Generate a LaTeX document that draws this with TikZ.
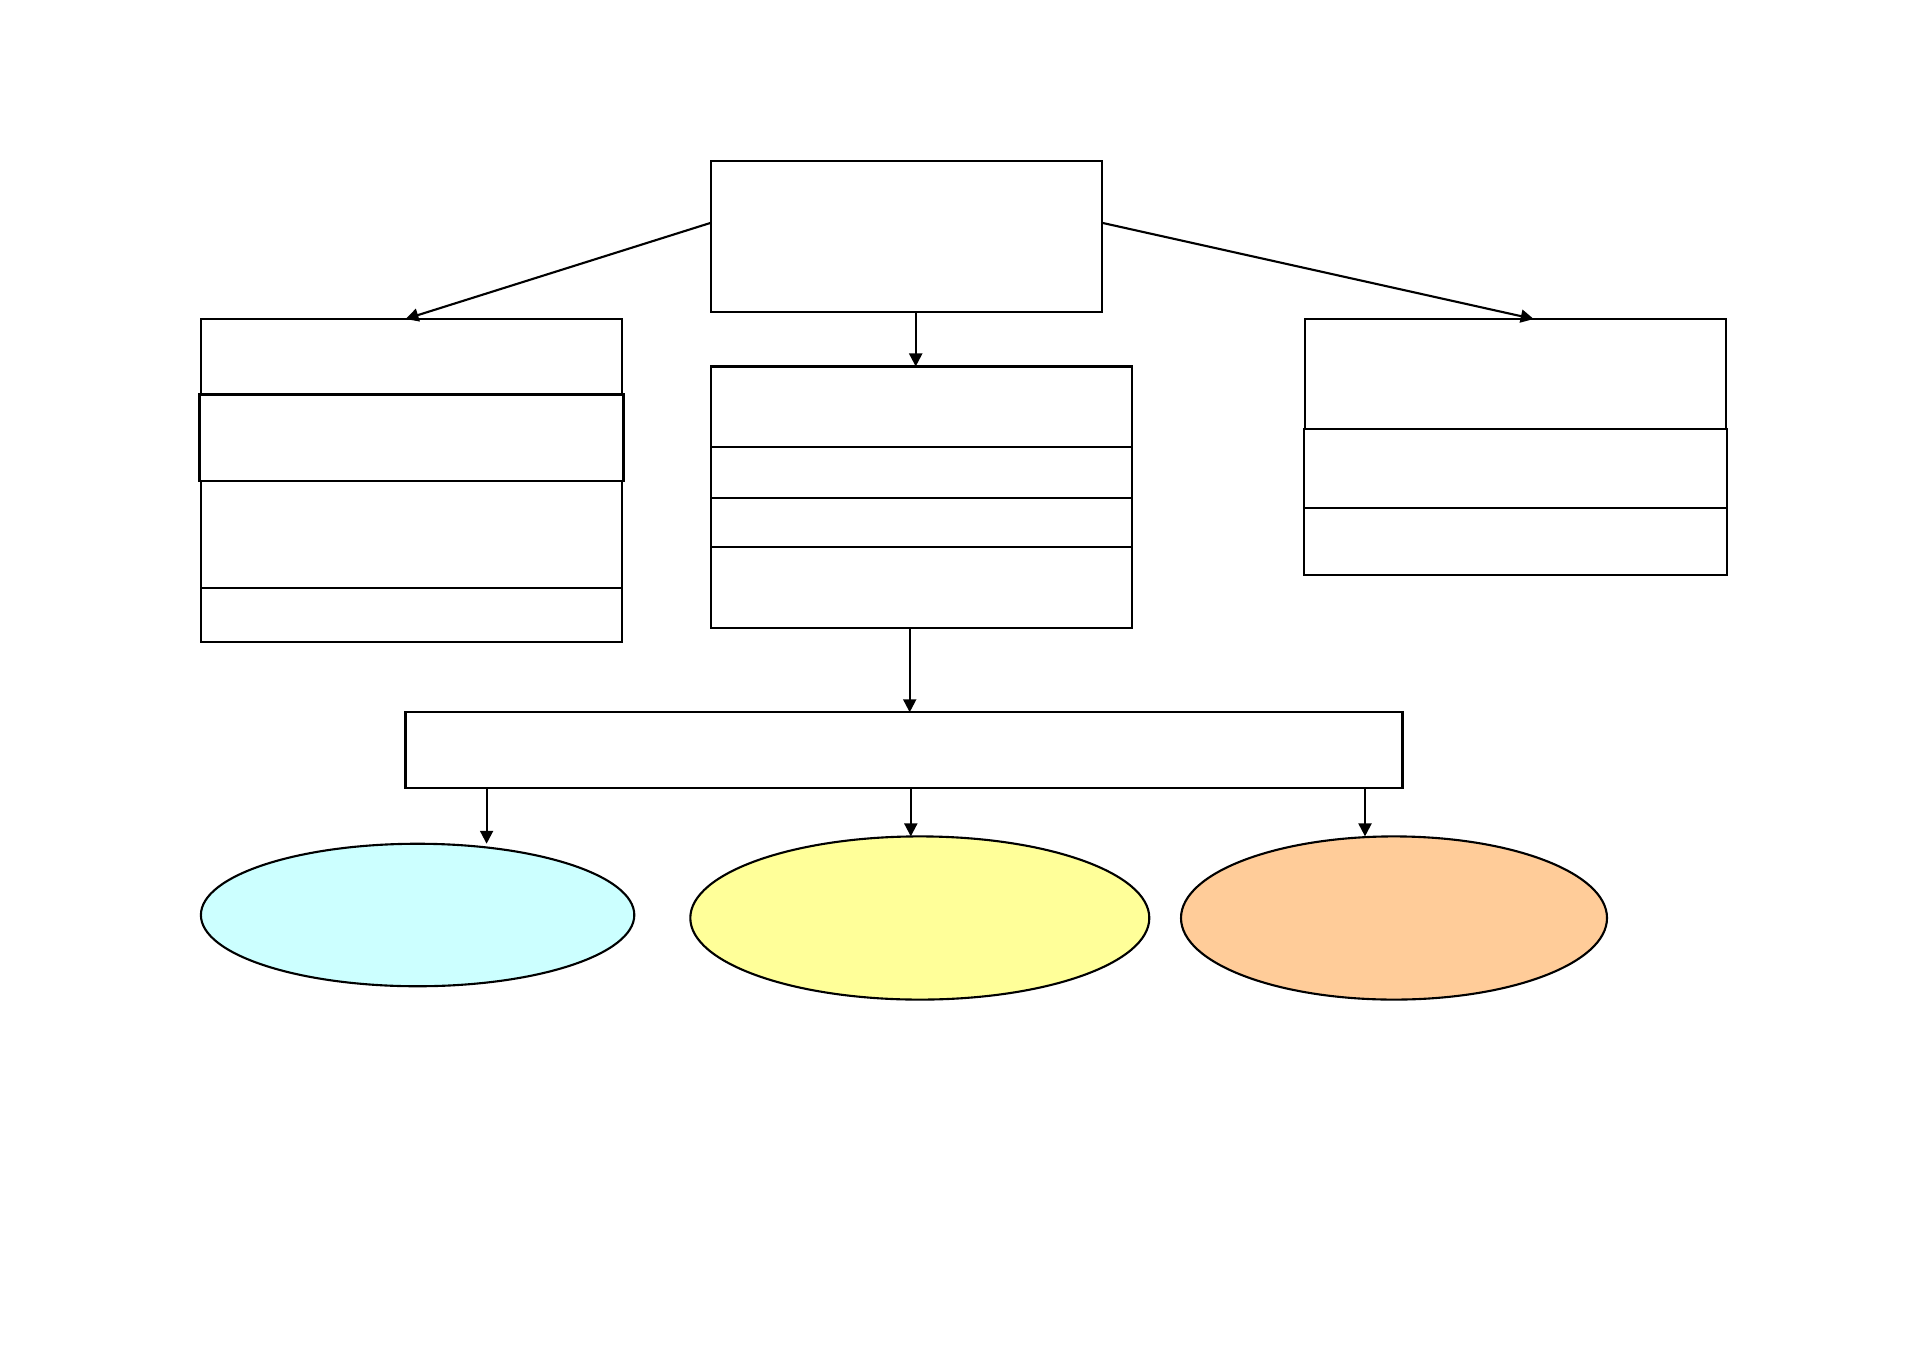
\documentclass[tikz,border=0pt]{standalone}
\usepackage{tikz}
\usetikzlibrary{arrows.meta,shapes.geometric,positioning}

\definecolor{PaleCyan}{HTML}{CCFFFF}
\definecolor{PaleYellow}{HTML}{FFFF99}
\definecolor{PaleOrange}{HTML}{FFCC99}

\begin{document}
\begin{tikzpicture}[line width=0.6pt,>={Triangle[length=1.3mm,width=1.3mm]},
	Edge/.style={->,black},
	Cell/.style={rectangle,draw=black,fill=white,inner sep=0pt,outer sep=0pt,minimum width=4.21cm},
	Bar/.style={rectangle,draw=black,fill=white,inner sep=0pt,outer sep=0pt},
	Blob/.style={ellipse,draw=black,inner sep=0pt,outer sep=0pt},
]
	\useasboundingbox (0,0) rectangle (19.09,13.5);

	% top
	\node[Bar,minimum width=3.91cm,minimum height=1.51cm] (Top) at (9.064,11.138) {};

	% left column
	\node[Cell,minimum height=0.755cm,anchor=north] (LeftA) at (4.115,10.31) {};
	\node[Cell,minimum height=0.865cm,minimum width=4.24cm] (LeftB)[below=0pt of LeftA] {};
	\node[Cell,minimum height=1.07cm] (LeftC)[below=0pt of LeftB] {};
	\node[Cell,minimum height=0.536cm] (LeftD)[below=0pt of LeftC] {};

	% middle column
	\node[Cell,minimum height=0.803cm,anchor=north] (MidA) at (9.217,9.835) {};
	\node[Cell,minimum height=0.512cm] (MidB)[below=0pt of MidA] {};
	\node[Cell,minimum height=0.487cm] (MidC)[below=0pt of MidB] {};
	\node[Cell,minimum height=0.815cm] (MidD)[below=0pt of MidC] {};

	% right column
	\node[Cell,minimum height=1.096cm,anchor=north] (RightA) at (15.157,10.31) {};
	\node[Cell,minimum height=0.791cm,minimum width=4.23cm] (RightB)[below=0pt of RightA] {};
	\node[Cell,minimum height=0.67cm,minimum width=4.23cm] (RightC)[below=0pt of RightB] {};

	% wide bar
	\node[Bar,minimum width=9.97cm,minimum height=0.755cm] (Wide) at (9.04,6.00) {};

	% ellipses
	\node[Blob,fill=PaleCyan,minimum width=4.334cm,minimum height=1.425cm] (Cyan) at (4.176,4.35) {};
	\node[Blob,fill=PaleYellow,minimum width=4.59cm,minimum height=1.632cm] (Yellow) at (9.198,4.32) {};
	\node[Blob,fill=PaleOrange,minimum width=4.26cm,minimum height=1.632cm] (Orange) at (13.94,4.32) {};

	\draw[Edge] ([yshift=1.34mm]Top.west) -- ([xshift=-0.6mm]LeftA.north);
	\draw[Edge] ([yshift=1.34mm]Top.east) -- ([xshift=1.8mm]RightA.north);
	\draw[Edge] ([xshift=-0.6mm]MidA.north |- Top.south) -- ([xshift=-0.6mm]MidA.north);
	\draw[Edge] ([xshift=-1.2mm]MidD.south) -- ([xshift=-1.2mm]MidD.south |- Wide.north);
	\draw[Edge] ([xshift=6.9mm]Cyan.north |- Wide.south) -- ([xshift=6.9mm]Cyan.north);
	\draw[Edge] ([xshift=-0.9mm]Yellow.north |- Wide.south) -- ([xshift=-0.9mm]Yellow.north);
	\draw[Edge] ([xshift=-2.9mm]Orange.north |- Wide.south) -- ([xshift=-2.9mm]Orange.north);
\end{tikzpicture}
\end{document}
